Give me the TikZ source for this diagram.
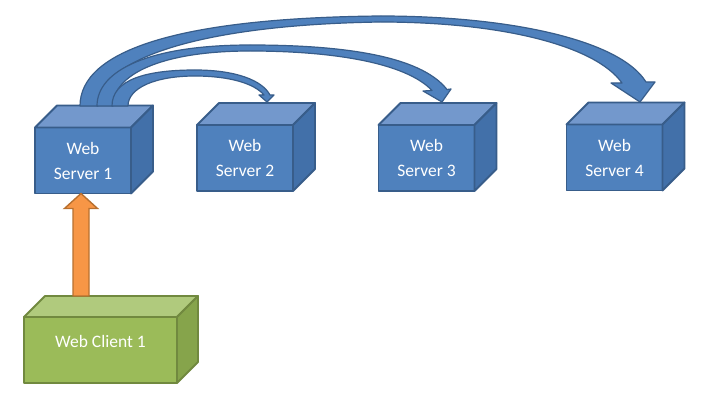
\documentclass[tikz,border=0pt]{standalone}
\usepackage{fontspec}
\setmainfont{Carlito}
\usetikzlibrary{calc}

\definecolor{srvfront}{HTML}{4F81BD}
\definecolor{srvtop}{HTML}{7398CC}
\definecolor{srvside}{HTML}{4270A9}
\definecolor{srvedge}{HTML}{385D8A}
\definecolor{clifront}{HTML}{9BBB59}
\definecolor{clitop}{HTML}{B0CA7D}
\definecolor{cliside}{HTML}{86A44B}
\definecolor{cliedge}{HTML}{71893F}
\definecolor{upfill}{HTML}{F79646}
\definecolor{upedge}{HTML}{B8702F}

\tikzset{
  server/.style={draw=srvedge, fill=srvfront, line width=1.8pt, line join=round,
    minimum width=96pt, minimum height=66pt, inner sep=0pt, outer sep=0pt,
    text=white, align=center, font=\fontsize{17.5}{25}\selectfont},
  srvtopface/.style={draw=srvedge, fill=srvtop, line width=1.8pt, line join=round},
  srvsideface/.style={draw=srvedge, fill=srvside, line width=1.8pt, line join=round},
  client/.style={draw=cliedge, fill=clifront, line width=1.8pt, line join=round,
    minimum width=153pt, minimum height=66pt, inner sep=0pt, outer sep=0pt,
    text=white, text height=10pt, text depth=16pt, font=\fontsize{17.5}{25}\selectfont},
  clitopface/.style={draw=cliedge, fill=clitop, line width=1.8pt, line join=round},
  clisideface/.style={draw=cliedge, fill=cliside, line width=1.8pt, line join=round},
  curvedarrow/.style={draw=srvedge, fill=srvfront, line width=1.2pt, line join=round},
  uparrow/.style={draw=upedge, fill=upfill, line width=1.4pt, line join=miter},
}

% top and right faces of a box whose front face is node #1, depth #2
\newcommand\boxfaces[4]{%
  \draw[#3] (#1.north west) -- ++(#2,-#2) -- ($(#1.north east)+(#2,-#2)$) -- (#1.north east) -- cycle;
  \draw[#4] (#1.north east) -- ++(#2,-#2) -- ($(#1.south east)+(#2,-#2)$) -- (#1.south east) -- cycle;
}

\begin{document}
\begin{tikzpicture}[x=1pt, y=-1pt]
\useasboundingbox (0,0) rectangle (711,406);
\fill[white] (0,0) rectangle (711,406);

% servers
\node[server] (s1) at (83,160.5) {Web\\Server 1};
\boxfaces{s1}{22}{srvtopface}{srvsideface}
\node[server] (s2) at (245,158) {Web\\Server 2};
\boxfaces{s2}{22}{srvtopface}{srvsideface}
\node[server] (s3) at (426.5,158) {Web\\Server 3};
\boxfaces{s3}{22}{srvtopface}{srvsideface}
\node[server] (s4) at (614.5,157.5) {Web\\Server 4};
\boxfaces{s4}{22}{srvtopface}{srvsideface}

% client
\node[client] (c1) at (100.5,350) {Web Client 1};
\boxfaces{c1}{21}{clitopface}{clisideface}

% request arrow from the client up to server 1
\coordinate (ob) at ($(c1.north west)+(57,-21)$);
\coordinate (ot) at (s1.south -| ob);
\draw[uparrow] ($(ob)+(-8,0)$) -- ($(ot)+(-8,15)$) -- ($(ot)+(-16.5,15)$) -- (ot)
  -- ($(ot)+(16.5,15)$) -- ($(ot)+(8,15)$) -- ($(ob)+(8,0)$) -- cycle;

% curved block arrows from server 1 to servers 4, 3 and 2
\draw[curvedarrow] (80,106) .. controls (80,50) and (180,18) .. (380,16)
  .. controls (510,16) and (620,40) .. (646,82)
  -- (655,82) -- (640,102) -- (611,83) -- (622,83)
  .. controls (595,45) and (500,22) .. (380,22)
  .. controls (190,25) and (98,62) .. (98,106) -- cycle;

\draw[curvedarrow] (97,106) .. controls (97,70) and (150,45) .. (250,45)
  .. controls (340,45) and (420,55) .. (447,89.5)
  -- (451,89) -- (442,102) -- (423,91) -- (432,90.5)
  .. controls (405,62) and (330,51) .. (250,51)
  .. controls (160,51) and (113,75) .. (113,106) -- cycle;

\draw[curvedarrow] (112,106) .. controls (112,80) and (145,70) .. (195,70)
  .. controls (235,70) and (262,80) .. (270,95)
  -- (274,95) -- (267,102) -- (259,95) -- (264,95)
  .. controls (254,83) and (228,76) .. (195,76)
  .. controls (155,76) and (128,88) .. (128,106) -- cycle;
\end{tikzpicture}
\end{document}
